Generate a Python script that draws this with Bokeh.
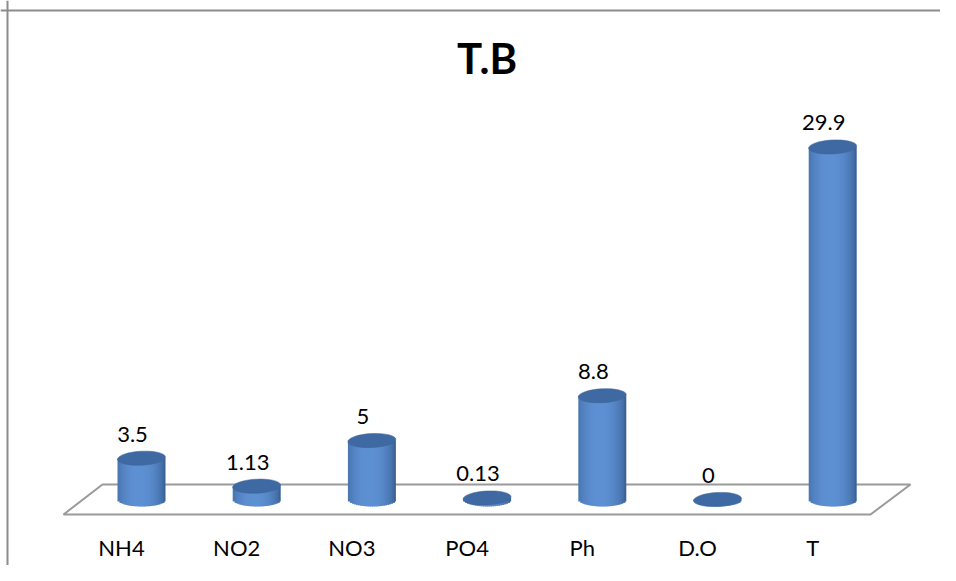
import math
from bokeh.plotting import figure
from bokeh.models import Range1d, ColumnDataSource, Span
from bokeh.core.properties import value
from bokeh.embed import file_html
from bokeh.resources import INLINE

# ---- data ----
categories = ["NH4", "NO2", "NO3", "PO4", "Ph", "D.O", "T"]
values = [3.5, 1.13, 5, 0.13, 8.8, 0, 29.9]
value_labels = ["3.5", "1.13", "5", "0.13", "8.8", "0", "29.9"]
chart_title = "T.B"

# ---- layout constants ----
W, H = 940, 565
PX_PER_CAT = 115.2
PX_PER_UNIT = 11.79
X0_PX = 141.0          # screen x of first category centre
Y0_PX = 499.0          # screen y of value 0
CYL_W = 48.0 / PX_PER_CAT          # cylinder width in category units
ELL_H = 14.0 / PX_PER_UNIT         # ellipse height in value units
FONT = "Lato"

x_start = -X0_PX / PX_PER_CAT
x_end = (W - X0_PX) / PX_PER_CAT
y_end = Y0_PX / PX_PER_UNIT
y_start = (Y0_PX - H) / PX_PER_UNIT

p = figure(width=W, height=H, output_backend="svg", toolbar_location=None,
           x_range=Range1d(x_start, x_end), y_range=Range1d(y_start, y_end),
           x_axis_location=None, y_axis_location=None, min_border=0)
p.grid.visible = False
p.outline_line_color = None
p.background_fill_color = "white"
p.border_fill_color = "white"

# chart border (left & top visible in reference)
p.add_layout(Span(location=x_start + 7.0 / PX_PER_CAT, dimension="height",
                  line_color="#8c8c8c", line_width=2))
p.add_layout(Span(location=y_end - 10.0 / PX_PER_UNIT, dimension="width",
                  line_color="#8c8c8c", line_width=2))

# floor (3D base plane)
n = len(categories)
fx = [-0.339, (n - 1) + 0.675, (n - 1) + 0.328, -0.677, -0.339]
fy = [1.27, 1.27, -1.27, -1.27, 1.27]
p.patch(fx, fy, fill_color="white", line_color="#9a9a9a", line_width=2)

# cylinders: shaded vertical strips + top ellipse
NS = 24
dark = (50, 86, 136)
light = (94, 145, 212)
L, R, B, T, C = [], [], [], [], []
for i, v in enumerate(values):
    for j in range(NS):
        t0 = -1 + 2 * j / NS
        t1 = -1 + 2 * (j + 1) / NS
        tc = (t0 + t1) / 2
        inten = max(0.0, 1 - ((tc + 0.1) / 1.1) ** 2) ** 0.6
        col = tuple(int(dark[k] + (light[k] - dark[k]) * inten) for k in range(3))
        t1x = t1 + (1.0 / NS if j < NS - 1 else 0.0)   # overlap to hide seams
        L.append(i + t0 * CYL_W / 2)
        R.append(i + t1x * CYL_W / 2)
        B.append(-ELL_H / 2 * math.sqrt(max(0.0, 1 - tc * tc)))
        T.append(v)
        C.append("#%02x%02x%02x" % col)
src = ColumnDataSource(dict(left=L, right=R, bottom=B, top=T, color=C))
p.quad(left="left", right="right", bottom="bottom", top="top", source=src,
       fill_color="color", line_color=None)

idx = list(range(n))
p.ellipse(x=idx, y=values, width=CYL_W, height=ELL_H, angle=0.05,
          fill_color="#3e69a2", line_color="#3a6399", line_width=0.5)

# value labels
p.text(x=idx, y=values, text=value_labels, x_offset=-9, y_offset=-24,
       text_align="center", text_baseline="alphabetic",
       text_font=value(FONT), text_font_size="22px", text_color="black")

# category labels
p.text(x=idx, y=[0] * n, text=categories, x_offset=-20, y_offset=48,
       text_align="center", text_baseline="alphabetic",
       text_font=value(FONT), text_font_size="22px", text_color="black")

# title
p.text(x=[(n - 1) / 2], y=[(Y0_PX - 57) / PX_PER_UNIT], text=[chart_title],
       text_align="center", text_baseline="alphabetic",
       text_font=value(FONT), text_font_style="bold", text_font_size="42px",
       text_color="black")

open("out.html", "w").write(file_html(p, INLINE))
